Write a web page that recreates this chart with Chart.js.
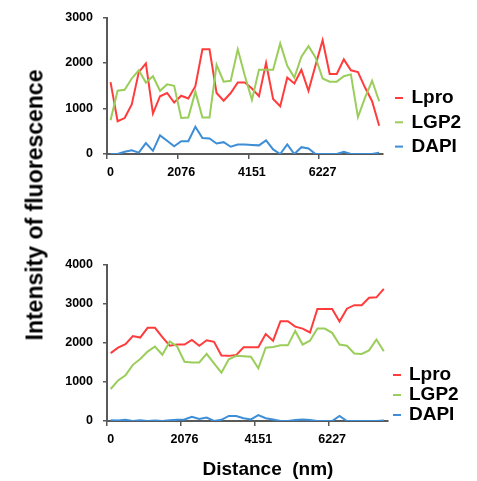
<!DOCTYPE html>
<html>
<head>
<meta charset="utf-8">
<script src="https://cdn.jsdelivr.net/npm/chart.js@4.4.1/dist/chart.umd.min.js"></script>
<style>
  body { margin: 0; background: #fff; }
  #lienzo { position: relative; width: 477px; height: 481px; overflow: hidden; font-family: 'Liberation Sans', Arial, sans-serif; }
  .grafico { position: absolute; left: 0; }
  .titulo { position: absolute; font-weight: bold; white-space: pre; color: #000; transform: translate(-50%, -50%); }
</style>
</head>
<body>
<div id="lienzo">
  <canvas id="graficoArriba" class="grafico" width="477" height="200" style="top:0; width:477px; height:200px"></canvas>
  <canvas id="graficoAbajo" class="grafico" width="477" height="220" style="top:240px; width:477px; height:220px"></canvas>
  <div class="titulo" style="left:35px; top:205px; font-size:23px; transform: translate(-50%, -50%) rotate(-90deg)">Intensity of fluorescence</div>
  <div class="titulo" style="left:268px; top:469px; font-size:19px">Distance  (nm)</div>
</div>
<script>
  // Distancia (nm) de cada punto del perfil
  const distancias = [0, 208, 415, 623, 830, 1038, 1245, 1453, 1661, 1868,
    2076, 2283, 2491, 2698, 2906, 3113, 3321, 3529, 3736, 3944,
    4151, 4359, 4566, 4774, 4981, 5189, 5397, 5604, 5812, 6019,
    6227, 6434, 6642, 6849, 7057, 7264, 7472, 7680, 7887];
  // Etiquetas que se ven en el eje x
  const marcasX = [0, 2076, 4151, 6227];

  // Grafico de arriba
  const lproArriba = [1580, 720, 790, 1090, 1800, 1990, 890, 1270, 1340, 1130,
    1280, 1220, 1490, 2300, 2300, 1340, 1170, 1340, 1570, 1570,
    1440, 1270, 2000, 1210, 1050, 1680, 1550, 1850, 1390, 1950,
    2500, 1760, 1760, 2080, 1840, 1800, 1460, 1160, 620];
  const lgp2Arriba = [740, 1390, 1410, 1660, 1840, 1570, 1710, 1390, 1530, 1500,
    790, 800, 1370, 800, 800, 1960, 1590, 1610, 2300, 1720,
    1190, 1850, 1850, 1850, 2430, 1940, 1680, 2140, 2370, 2120,
    1660, 1590, 1590, 1710, 1750, 810, 1240, 1610, 1160];
  const dapiArriba = [0, 0, 50, 80, 30, 240, 70, 410, 290, 170,
    280, 280, 600, 350, 340, 230, 260, 160, 210, 210,
    200, 190, 300, 100, 0, 210, 0, 150, 120, 0,
    0, 0, 0, 50, 0, 0, 0, 0, 30];

  // Grafico de abajo
  const lproAbajo = [1740, 1880, 1970, 2180, 2140, 2390, 2390, 2150, 1930, 1960,
    1960, 2080, 1930, 2070, 2030, 1680, 1670, 1690, 1890, 1890,
    1890, 2230, 2060, 2560, 2560, 2420, 2370, 2270, 2870, 2870,
    2870, 2550, 2880, 2970, 2970, 3160, 3170, 3390];
  const lgp2Abajo = [820, 1040, 1170, 1440, 1590, 1780, 1910, 1700, 2040, 1910,
    1520, 1500, 1500, 1720, 1480, 1240, 1580, 1670, 1660, 1650,
    1350, 1880, 1900, 1940, 1940, 2310, 1960, 2060, 2370, 2370,
    2260, 1960, 1930, 1730, 1720, 1810, 2090, 1790];
  const dapiAbajo = [20, 10, 30, 0, 20, 0, 10, 0, 20, 30,
    40, 110, 50, 90, 0, 30, 130, 130, 70, 40,
    150, 70, 40, 0, 0, 25, 40, 25, 0, 0,
    0, 130, 0, 0, 0, 0, 0, 10];

  const colorLpro = '#ff3c3c';
  const colorLgp2 = '#9acd5a';
  const colorDapi = '#3d8ed6';
  const colorEje = '#595959';
  const fuente = "'Liberation Sans', Arial, sans-serif";

  Chart.defaults.font.family = fuente;

  // Leyenda a la derecha, dibujada en el mismo canvas
  const leyendaDerecha = {
    id: 'leyendaDerecha',
    afterDraw(chart, args, opts) {
      const ctx = chart.ctx;
      ctx.save();
      ctx.font = 'bold 19px ' + fuente;
      ctx.textBaseline = 'middle';
      ctx.fillStyle = '#000';
      chart.data.datasets.forEach((ds, i) => {
        const y = opts.y + i * opts.salto;
        ctx.strokeStyle = ds.borderColor;
        ctx.lineWidth = 2;
        ctx.beginPath();
        ctx.moveTo(opts.x, y);
        ctx.lineTo(opts.x + 8, y);
        ctx.stroke();
        ctx.fillText(ds.label, opts.xTexto, y);
      });
      ctx.restore();
    }
  };

  function crearGrafico(id, etiquetas, lpro, lgp2, dapi, maxY, area, leyenda) {
    const canvas = document.getElementById(id);
    return new Chart(canvas.getContext('2d'), {
      type: 'line',
      data: {
        labels: etiquetas,
        datasets: [
          { label: 'Lpro', data: lpro, borderColor: colorLpro, backgroundColor: colorLpro, order: 2 },
          { label: 'LGP2', data: lgp2, borderColor: colorLgp2, backgroundColor: colorLgp2, order: 1 },
          { label: 'DAPI', data: dapi, borderColor: colorDapi, backgroundColor: colorDapi, order: 0 }
        ]
      },
      options: {
        responsive: false,
        animation: false,
        layout: { padding: { top: area.top, right: canvas.width - area.right, bottom: 0, left: 0 } },
        elements: {
          point: { radius: 0 },
          line: { borderWidth: 2, tension: 0, fill: false }
        },
        plugins: {
          legend: { display: false },
          tooltip: { enabled: false },
          leyendaDerecha: leyenda
        },
        scales: {
          x: {
            type: 'category',
            offset: true,
            afterFit: (escala) => { escala.height = canvas.height - area.bottom; },
            border: { color: colorEje, width: 2 },
            grid: {
              offset: true,
              drawOnChartArea: false,
              tickLength: 5,
              lineWidth: 1.5,
              color: (c) => marcasX.includes(etiquetas[c.index]) ? colorEje : 'rgba(0,0,0,0)'
            },
            ticks: {
              autoSkip: false,
              maxRotation: 0,
              minRotation: 0,
              padding: 6,
              color: '#000',
              font: { size: 12.5, weight: 'bold' },
              callback: function (valor) {
                const e = this.getLabelForValue(valor);
                return marcasX.includes(e) ? String(e) : '';
              }
            }
          },
          y: {
            min: 0,
            max: maxY,
            afterFit: (escala) => { escala.width = area.left; },
            border: { color: colorEje, width: 2 },
            grid: { drawOnChartArea: false, tickLength: 4, lineWidth: 1.5, color: colorEje },
            ticks: {
              stepSize: 1000,
              padding: 10,
              color: '#000',
              font: { size: 12.5, weight: 'bold' },
              callback: (v) => String(v)
            }
          }
        }
      },
      plugins: [leyendaDerecha]
    });
  }

  crearGrafico('graficoArriba', distancias, lproArriba, lgp2Arriba, dapiArriba, 3000,
    { left: 107, right: 382.7, top: 14, bottom: 154 },
    { x: 395, xTexto: 411.5, y: 98, salto: 24.3 });

  crearGrafico('graficoAbajo', distancias.slice(0, 38), lproAbajo, lgp2Abajo, dapiAbajo, 4000,
    { left: 107, right: 387.5, top: 25, bottom: 181 },
    { x: 393, xTexto: 409, y: 135, salto: 20 });
</script>
</body>
</html>
